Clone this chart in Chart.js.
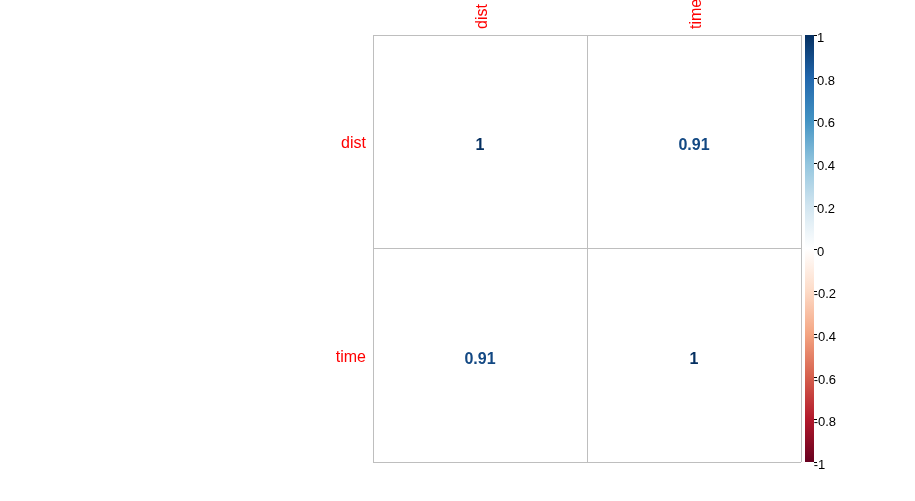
<!DOCTYPE html>
<html><head><meta charset="utf-8">
<script src="https://cdn.jsdelivr.net/npm/chart.js@4"></script>
<style>html,body{margin:0;padding:0;background:#fff}#wrap{width:915px;height:501px}</style>
</head><body><div id="wrap"><canvas id="c" width="915" height="501"></canvas></div>
<script>
const variables = ['dist', 'time'];
const corrDist = [1, 0.91];
const corrTime = [0.91, 1];
const colorbarTicks = [1, 0.8, 0.6, 0.4, 0.2, 0, -0.2, -0.4, -0.6, -0.8, -1];
const palette = ["#67001F","#B2182B","#D6604D","#F4A582","#FDDBC7","#FFFFFF","#D1E5F0","#92C5DE","#4393C3","#2166AC","#053061"];

const corrRows = [corrDist, corrTime];
const points = [];
corrRows.forEach((row, r) => row.forEach((v, c) => points.push({x: variables[c], y: variables[r], v: v})));

function hexToRgb(h){return [parseInt(h.slice(1,3),16),parseInt(h.slice(3,5),16),parseInt(h.slice(5,7),16)];}
function colorFor(v){
  const t = (v + 1) / 2 * (palette.length - 1);
  const i = Math.min(Math.floor(t), palette.length - 2);
  const f = t - i;
  const a = hexToRgb(palette[i]), b = hexToRgb(palette[i+1]);
  const c = a.map((x, k) => Math.round(x + (b[k] - x) * f));
  return 'rgb(' + c.join(',') + ')';
}
function fmt(v){ return String(Math.round(v * 100) / 100); }

const FONT = '"Liberation Sans", Arial, sans-serif';
const gridColor = '#bebebe';

const corrPlugin = {
  id: 'corr',
  afterDatasetsDraw(chart){
    const ctx = chart.ctx;
    const meta = chart.getDatasetMeta(0);
    ctx.save();
    ctx.font = 'bold 16px ' + FONT;
    ctx.textAlign = 'center';
    ctx.textBaseline = 'middle';
    meta.data.forEach((el, i) => {
      const v = points[i].v;
      ctx.fillStyle = colorFor(v);
      ctx.fillText(fmt(v), el.x, el.y + 4);
    });
    // colour bar
    const cb = chart.scales.cb;
    const top = cb.getPixelForValue(1), bot = cb.getPixelForValue(-1);
    const x0 = cb.left + 4, w = 9;
    const g = ctx.createLinearGradient(0, top, 0, bot);
    palette.slice().reverse().forEach((col, i) => g.addColorStop(i / (palette.length - 1), col));
    ctx.fillStyle = g;
    ctx.fillRect(x0, top, w, bot - top);
    ctx.font = '13px ' + FONT;
    ctx.textAlign = 'left';
    ctx.textBaseline = 'middle';
    const minusW = ctx.measureText('-').width;
    colorbarTicks.forEach(t => {
      const y = Math.round(cb.getPixelForValue(t)) + 0.5;
      ctx.strokeStyle = '#000';
      ctx.lineWidth = 1;
      ctx.beginPath(); ctx.moveTo(x0 + w, y); ctx.lineTo(x0 + w + 3, y); ctx.stroke();
      ctx.fillStyle = '#000';
      const lx = x0 + w + 3;
      const s = String(t);
      ctx.fillText(s, t < 0 ? lx - minusW + 1 : lx, y + 2.5);
    });
    ctx.restore();
  }
};

const gridOpts = {offset: true, color: gridColor, lineWidth: 1, drawTicks: false};

new Chart(document.getElementById('c'), {
  type: 'scatter',
  data: {datasets: [{data: points, pointRadius: 0, pointHoverRadius: 0}]},
  options: {
    responsive: false, animation: false, events: [],
    layout: {padding: {left: 0, top: 0, right: 0, bottom: 39}},
    plugins: {legend: {display: false}, tooltip: {enabled: false}},
    scales: {
      x: {type: 'category', labels: variables, position: 'top', offset: true,
          grid: gridOpts, border: {display: true, color: gridColor},
          ticks: {color: '#ff0000', font: {family: FONT, size: 16}, minRotation: 90, maxRotation: 90, padding: 6, labelOffset: 22, autoSkip: false},
          afterFit(s){ s.height = 35; }},
      y: {type: 'category', labels: variables, position: 'left', offset: true,
          grid: gridOpts, border: {display: true, color: gridColor},
          ticks: {color: '#ff0000', font: {family: FONT, size: 16}, padding: 7, labelOffset: 2, autoSkip: false},
          afterFit(s){ s.width = 373; }},
      cb: {type: 'linear', position: 'right', min: -1, max: 1,
           grid: {display: false, drawTicks: false}, border: {display: false},
           ticks: {display: false},
           afterFit(s){ s.width = 114; }}
    }
  },
  plugins: [corrPlugin]
});
</script>
</body></html>
